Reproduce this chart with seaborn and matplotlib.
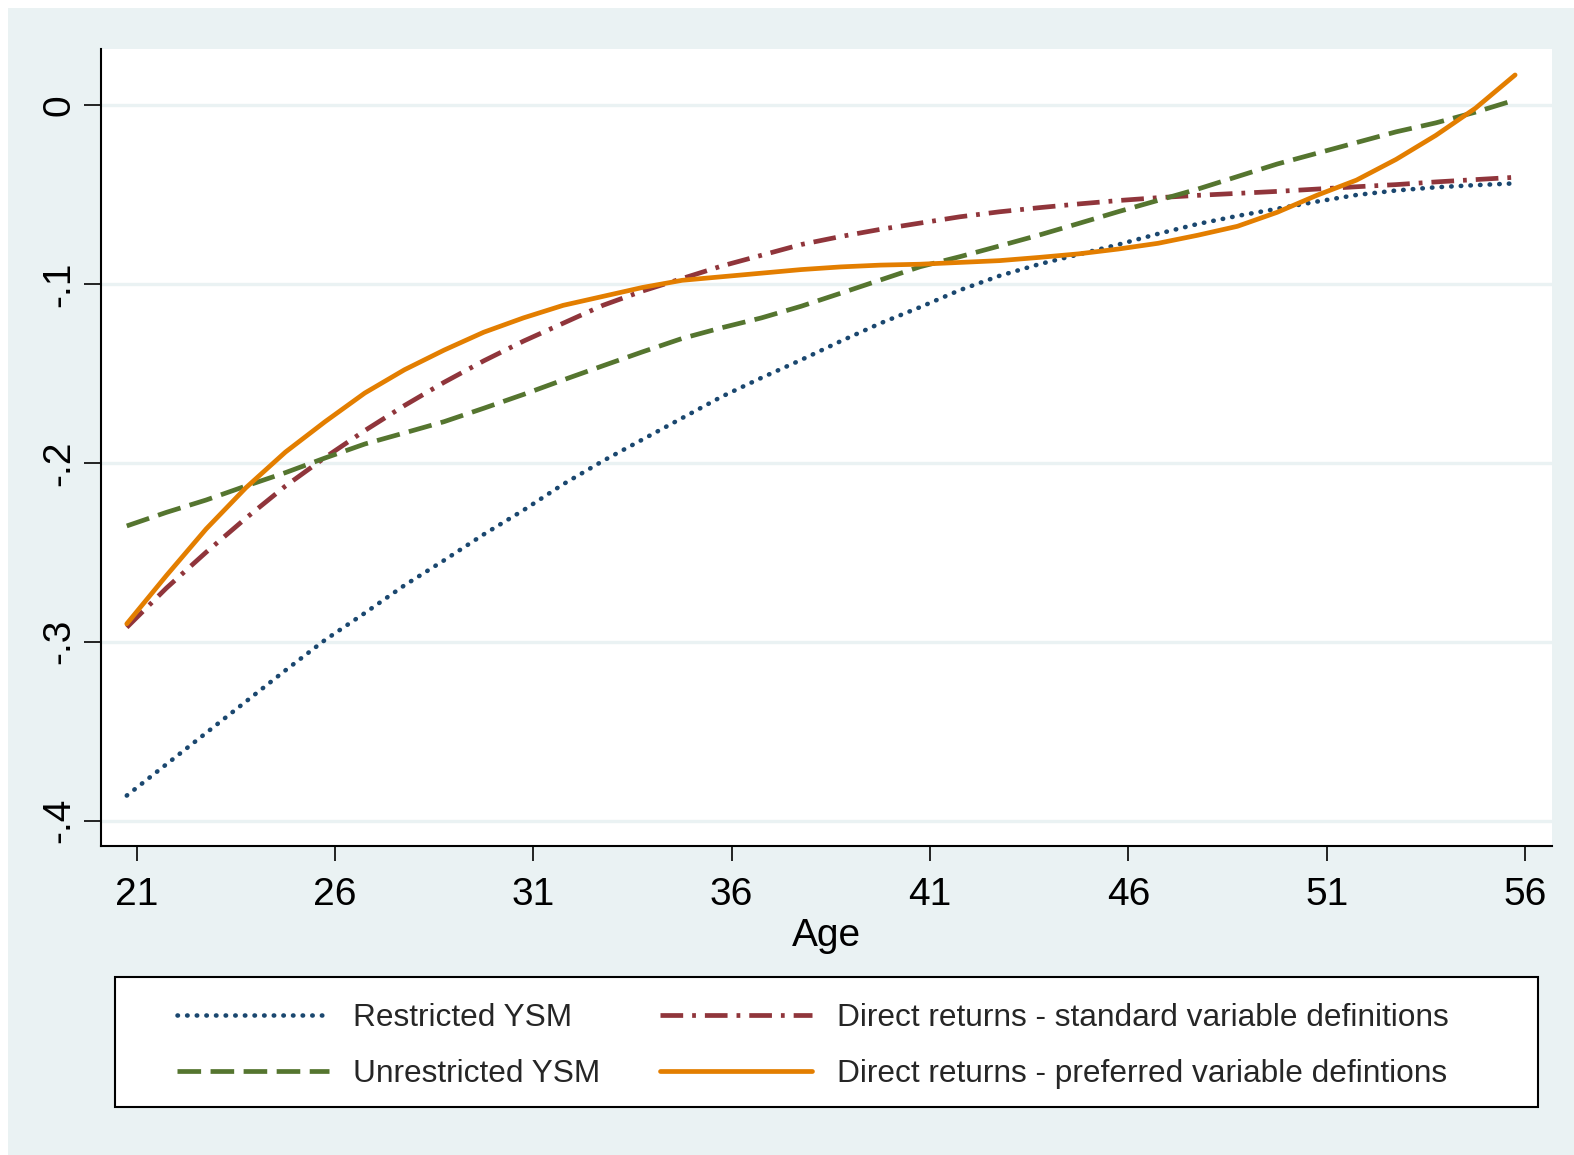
import matplotlib
matplotlib.use("Agg")
import matplotlib.pyplot as plt
from matplotlib.patches import Rectangle
import seaborn as sns
import pandas as pd

# ---------------- data ----------------
age = [20.75, 21.75, 22.75, 23.75, 24.75, 25.75, 26.75, 27.75, 28.75, 29.75,
       30.75, 31.75, 32.75, 33.75, 34.75, 35.75, 36.75, 37.75, 38.75, 39.75,
       40.75, 41.75, 42.75, 43.75, 44.75, 45.75, 46.75, 47.75, 48.75, 49.75,
       50.75, 51.75, 52.75, 53.75, 54.75, 55.75]

restricted_ysm = [-0.386, -0.3685, -0.351, -0.3335, -0.316, -0.299, -0.284, -0.2685, -0.2545, -0.240,
                  -0.2265, -0.212, -0.199, -0.187, -0.175, -0.163, -0.1525, -0.1425, -0.132, -0.122,
                  -0.113, -0.1035, -0.0955, -0.089, -0.0835, -0.078, -0.072, -0.0665, -0.062, -0.058,
                  -0.054, -0.0503, -0.0478, -0.046, -0.0448, -0.0438]

unrestricted_ysm = [-0.2353, -0.2277, -0.2208, -0.2130, -0.2055, -0.1973, -0.1895, -0.1833, -0.1770, -0.1695,
                    -0.1618, -0.1537, -0.1458, -0.1380, -0.1305, -0.1245, -0.1190, -0.1125, -0.1052, -0.0978,
                    -0.0904, -0.0848, -0.0788, -0.0727, -0.0662, -0.0596, -0.0533, -0.0470, -0.0400, -0.0330,
                    -0.0270, -0.0210, -0.0150, -0.0100, -0.0040, 0.0028]

direct_standard = [-0.292, -0.270, -0.250, -0.231, -0.213, -0.197, -0.182, -0.168, -0.155, -0.143,
                   -0.132, -0.122, -0.112, -0.104, -0.097, -0.090, -0.084, -0.078, -0.0735, -0.0695,
                   -0.066, -0.0625, -0.0597, -0.0574, -0.0553, -0.0534, -0.0518, -0.0505, -0.0494, -0.0483,
                   -0.0470, -0.0457, -0.0445, -0.0430, -0.0417, -0.0404]

direct_preferred = [-0.290, -0.263, -0.237, -0.214, -0.194, -0.177, -0.161, -0.148, -0.137, -0.127,
                    -0.119, -0.112, -0.107, -0.102, -0.098, -0.096, -0.094, -0.092, -0.0905, -0.0895,
                    -0.089, -0.088, -0.0870, -0.0852, -0.0832, -0.0805, -0.0773, -0.0728, -0.0678, -0.0600,
                    -0.0505, -0.0420, -0.0304, -0.0170, -0.0018, 0.0168]

series_labels = ["Restricted YSM", "Unrestricted YSM",
                 "Direct returns - standard variable definitions",
                 "Direct returns - preferred variable defintions"]
x_ticks = [21, 26, 31, 36, 41, 46, 51, 56]
y_ticks = [0, -0.1, -0.2, -0.3, -0.4]
y_ticklabels = ["0", "-.1", "-.2", "-.3", "-.4"]

# ---------------- style ----------------
sns.set_theme(style="white")
plt.rcParams["font.family"] = ["Liberation Sans", "DejaVu Sans"]

BG = "#EAF2F3"
C_NAVY = "#1A476F"
C_MAROON = "#90353B"
C_GREEN = "#55752F"
C_ORANGE = "#E37E00"

W, H = 1574, 1155
fig = plt.figure(figsize=(W / 100, H / 100), dpi=100)
fig.patch.set_facecolor("white")
fig.add_artist(Rectangle((8 / W, 0), 1 - 8 / W, 1 - 8 / H, transform=fig.transFigure,
                         facecolor=BG, edgecolor="none", zorder=-10))

ax = fig.add_axes([101 / W, 1 - 846 / H, (1552 - 101) / W, (846 - 49) / H])
ax.set_facecolor("white")

lw = 3.4
specs = [
    (restricted_ysm, series_labels[0], C_NAVY, (0, (0.1, 2.0)), 3.3, "round"),
    (direct_standard, series_labels[2], C_MAROON, (0, (4.8, 1.9, 0.8, 1.9)), lw, "butt"),
    (unrestricted_ysm, series_labels[1], C_GREEN, (0, (5.0, 2.0)), lw, "butt"),
    (direct_preferred, series_labels[3], C_ORANGE, "-", lw, "butt"),
]
for vals, lab, col, ls, w, cap in specs:
    df = pd.DataFrame({"age": age, "val": vals})
    sns.lineplot(data=df, x="age", y="val", ax=ax, color=col, lw=w, linestyle=ls,
                 label=lab, errorbar=None, dash_capstyle=cap)

ax.set_xlim(20.1, 56.68)
ax.set_ylim(-0.4142, 0.0313)
ax.set_xticks(x_ticks)
ax.set_xticklabels([str(t) for t in x_ticks])
ax.set_yticks(y_ticks)
ax.set_yticklabels(y_ticklabels)

ax.yaxis.grid(True, color=BG, lw=2.4)
ax.xaxis.grid(False)
ax.set_axisbelow(True)

for s in ["top", "right"]:
    ax.spines[s].set_visible(False)
for s in ["left", "bottom"]:
    ax.spines[s].set_color("black")
    ax.spines[s].set_linewidth(1.5)

ax.tick_params(axis="x", length=11, width=1.2, pad=11, labelsize=28, colors="black",
               bottom=True, direction="out")
ax.tick_params(axis="y", length=12, width=1.2, pad=5, labelsize=28, colors="black",
               left=True, direction="out")
for t in ax.get_yticklabels():
    t.set_rotation(90)
    t.set_va("center")
    t.set_ha("right")

ax.set_xlabel("Age", fontsize=28, labelpad=4, color="black")
ax.set_ylabel("")

# legend
handles, labels = ax.get_legend_handles_labels()
ax.get_legend().remove()
order = [series_labels.index(l) for l in labels]
hl = sorted(zip(order, handles, labels))
handles = [h for _, h, _ in hl]
labels = [l for _, _, l in hl]

fig.add_artist(Rectangle((115.4 / W, 1 - 1107 / H), (1538 - 115.4) / W, (1107 - 977) / H,
                         transform=fig.transFigure, facecolor="white", edgecolor="black",
                         lw=1.5, zorder=1))
leg = fig.legend(handles, labels, ncol=2, loc="center left",
                 bbox_to_anchor=(177 / W, 1 - 1046 / H), frameon=False,
                 borderpad=0, borderaxespad=0, handlelength=4.8, handletextpad=0.76,
                 columnspacing=1.9, labelspacing=0.82,
                 prop={"size": 22.8})
leg.set_zorder(2)

fig.savefig("out.png", dpi=100)
